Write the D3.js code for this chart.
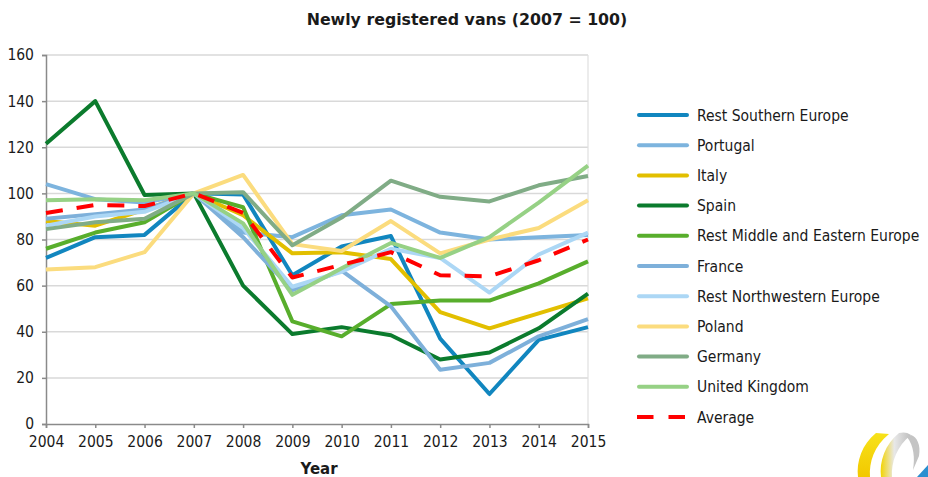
<!DOCTYPE html>
<html>
<head>
<meta charset="utf-8">
<script src="https://cdn.jsdelivr.net/npm/d3@7/dist/d3.min.js"></script>
<style>
  html, body { margin: 0; padding: 0; background: #ffffff; }
  svg { display: block; }
</style>
</head>
<body>
<svg id="chart" width="928" height="477"></svg>
<script>
// ---------- data ----------
const years = [2004, 2005, 2006, 2007, 2008, 2009, 2010, 2011, 2012, 2013, 2014, 2015];
const yTicks = [0, 20, 40, 60, 80, 100, 120, 140, 160];

const seriesNames = ["Rest Southern Europe", "Portugal", "Italy", "Spain",
  "Rest Middle and Eastern Europe", "France", "Rest Northwestern Europe",
  "Poland", "Germany", "United Kingdom", "Average"];

const restSouthernEurope = [72, 81, 82, 100, 99.5, 64.5, 77, 81.5, 37, 13, 36.5, 42];
const portugal          = [104, 97.5, 96, 100, 83, 81, 90.5, 93, 83, 80, 81, 82];
const italy             = [88, 86, 93, 100, 90.5, 74, 74.5, 71.5, 48.5, 41.5, 48, 54.5];
const spain             = [121.5, 140, 99.3, 100, 60, 39, 42, 38.5, 28, 31, 41.5, 56.5];
const restMiddleEastern = [76, 83, 87.5, 100, 94, 44.5, 38, 52, 53.5, 53.5, 61, 70.5];
const france            = [89, 91, 93, 100, 81, 58, 66.5, 51, 23.5, 26.5, 38, 45.5];
const restNorthwestern  = [86, 90, 92, 100, 85, 59.5, 66, 76, 72, 57, 73.5, 83];
const poland            = [67, 68, 74.5, 100, 108, 78, 75, 88, 74, 80, 85, 97];
const germany           = [84.5, 87.5, 89, 100, 100.5, 77.5, 89.5, 105.5, 98.5, 96.5, 103.5, 107.5];
const unitedKingdom     = [97, 97.5, 97, 100, 87, 56, 67.5, 78.5, 72, 81, 96, 112];
const average           = [91.5, 95, 94.5, 100, 91.5, 63.5, 69, 74.5, 64.5, 64, 71, 80];

const seriesValues = [restSouthernEurope, portugal, italy, spain, restMiddleEastern,
  france, restNorthwestern, poland, germany, unitedKingdom, average];

const seriesColors = ["#1186bf", "#7db4de", "#e2bf00", "#0b7b2d", "#58ae2c",
  "#7eb0da", "#acd7f5", "#fbdc7e", "#80ac86", "#96d185", "#ff0000"];

// ---------- layout ----------
const svg = d3.select("#chart");
const plotLeft = 46, plotRight = 588, plotTop = 55, plotBottom = 424;

const x = d3.scalePoint().domain(years).range([plotLeft, plotRight]);
const y = d3.scaleLinear().domain([0, 160]).range([plotBottom, plotTop]);

const tickFont = "'DejaVu Sans Condensed', 'DejaVu Sans', sans-serif";

// gridlines
svg.append("g")
  .selectAll("line")
  .data(yTicks.filter(d => d > 0))
  .join("line")
  .attr("x1", plotLeft).attr("x2", plotRight)
  .attr("y1", d => y(d)).attr("y2", d => y(d))
  .attr("stroke", "#d9d9d9").attr("stroke-width", 1.5);

// right border of plot area
svg.append("line")
  .attr("x1", plotRight).attr("x2", plotRight)
  .attr("y1", plotTop).attr("y2", plotBottom)
  .attr("stroke", "#e0e0e0").attr("stroke-width", 1.2);

// y axis
const yAxis = svg.append("g")
  .attr("transform", `translate(${plotLeft},0)`)
  .call(d3.axisLeft(y).tickValues(yTicks).tickSize(4).tickPadding(8));
yAxis.select(".domain").attr("stroke", "#8a8a8a").attr("stroke-width", 1.5);
yAxis.selectAll(".tick line").attr("stroke", "#8a8a8a").attr("stroke-width", 1.5);
yAxis.selectAll(".tick text")
  .attr("font-family", tickFont).attr("font-size", 15.5).attr("fill", "#1a1a1a");

// x axis
const xAxis = svg.append("g")
  .attr("transform", `translate(0,${plotBottom})`)
  .call(d3.axisBottom(x).tickSize(4).tickPadding(8).tickFormat(d3.format("d")));
xAxis.select(".domain").attr("stroke", "#8a8a8a").attr("stroke-width", 1.5);
xAxis.selectAll(".tick line").attr("stroke", "#8a8a8a").attr("stroke-width", 1.5);
xAxis.selectAll(".tick text")
  .attr("font-family", tickFont).attr("font-size", 15.5).attr("fill", "#1a1a1a");

// axis title
svg.append("text")
  .attr("x", 319).attr("y", 474)
  .attr("text-anchor", "middle")
  .attr("font-family", "'DejaVu Sans', sans-serif")
  .attr("font-weight", "bold").attr("font-size", 15)
  .attr("fill", "#1a1a1a")
  .text("Year");

// chart title
svg.append("text")
  .attr("x", 467).attr("y", 25)
  .attr("text-anchor", "middle")
  .attr("font-family", "'DejaVu Sans', sans-serif")
  .attr("font-weight", "bold").attr("font-size", 15.8)
  .attr("fill", "#1a1a1a")
  .text("Newly registered vans (2007 = 100)");

// lines
const line = d3.line()
  .x((d, i) => x(years[i]))
  .y(d => y(d));

const series = seriesNames.map((name, i) => ({ name, values: seriesValues[i], color: seriesColors[i] }));

svg.append("g")
  .selectAll("path")
  .data(series)
  .join("path")
  .attr("d", d => line(d.values))
  .attr("fill", "none")
  .attr("stroke", d => d.color)
  .attr("stroke-width", 4)
  .attr("stroke-linejoin", "round")
  .attr("stroke-dasharray", d => d.name === "Average" ? "17,14" : null);

// legend
const lg = svg.append("g");
const legendItems = lg.selectAll("g")
  .data(series)
  .join("g")
  .attr("transform", (d, i) => `translate(0,${115 + i * 30.2})`);

legendItems.append("line")
  .attr("x1", d => d.name === "Average" ? 637 : 639)
  .attr("x2", d => d.name === "Average" ? 685 : 687)
  .attr("y1", 0).attr("y2", 0)
  .attr("stroke", d => d.color)
  .attr("stroke-width", 4)
  .attr("stroke-linecap", d => d.name === "Average" ? "butt" : "round")
  .attr("stroke-dasharray", d => d.name === "Average" ? "16.5,15" : null);

legendItems.append("text")
  .attr("x", 697).attr("y", 0).attr("dy", "0.36em")
  .attr("font-family", tickFont)
  .attr("font-size", 15.5)
  .attr("fill", "#1a1a1a")
  .text(d => d.name);

// decorative logo (bottom right)
const defs = svg.append("defs");
const g1 = defs.append("linearGradient").attr("id", "ylw").attr("x1", "0").attr("y1", "0").attr("x2", "0").attr("y2", "1");
g1.append("stop").attr("offset", "0").attr("stop-color", "#f7e21a");
g1.append("stop").attr("offset", "1").attr("stop-color", "#f2c800");
const g2 = defs.append("linearGradient").attr("id", "gry").attr("x1", "0").attr("y1", "0").attr("x2", "1").attr("y2", "0");
g2.append("stop").attr("offset", "0").attr("stop-color", "#f3d400");
g2.append("stop").attr("offset", "0.45").attr("stop-color", "#e8e8e8");
g2.append("stop").attr("offset", "1").attr("stop-color", "#bdbdbd");

const logo = svg.append("g");
logo.append("path")
  .attr("d", "M876,433 C862,444 856,462 858,477 L870,477 C869,462 874,446 889,434 Z")
  .attr("fill", "url(#ylw)");
logo.append("path")
  .attr("d", "M899,433 C885,444 879,462 881,477 L892,477 C891,462 897,446 911,435 C907,432 903,432 899,433 Z")
  .attr("fill", "url(#gry)");
logo.append("path")
  .attr("d", "M911,435 C917,437 921,445 919,456 L913,470 C915,458 914,446 907,437 Z")
  .attr("fill", "#c4c4c4");
logo.append("path")
  .attr("d", "M928,465 L917,477 L928,477 Z")
  .attr("fill", "#2a8fd0");
</script>
</body>
</html>
